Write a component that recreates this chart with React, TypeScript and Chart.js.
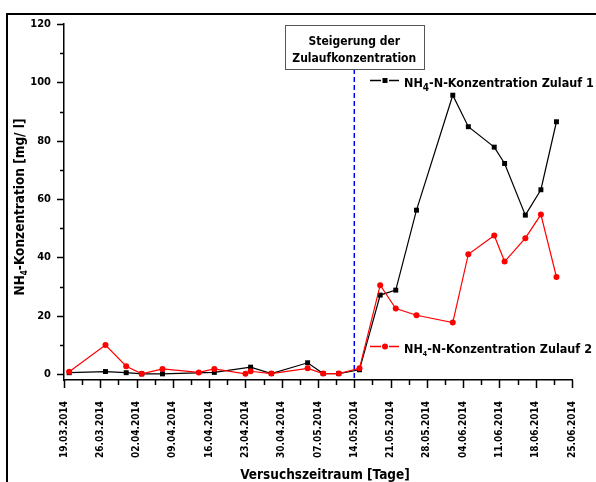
import React, { useEffect, useRef } from 'react';
import { Chart, registerables } from 'chart.js';

Chart.register(...registerables);

const FONT = "'DejaVu Sans Condensed', 'DejaVu Sans', sans-serif";

const startDate = '19.03.2014';
const markerDate = '14.05.2014';

const xTickLabels = [
  '19.03.2014', '26.03.2014', '02.04.2014', '09.04.2014', '16.04.2014',
  '23.04.2014', '30.04.2014', '07.05.2014', '14.05.2014', '21.05.2014',
  '28.05.2014', '04.06.2014', '11.06.2014', '18.06.2014', '25.06.2014',
];

const yTickValues = [0, 20, 40, 60, 80, 100, 120];
const yMinorValues = [10, 30, 50, 70, 90, 110];

const measureDates = [
  '20.03.2014', '27.03.2014', '31.03.2014', '03.04.2014', '07.04.2014',
  '14.04.2014', '17.04.2014', '23.04.2014', '24.04.2014', '28.04.2014',
  '05.05.2014', '08.05.2014', '11.05.2014', '15.05.2014', '19.05.2014',
  '22.05.2014', '26.05.2014', '02.06.2014', '05.06.2014', '10.06.2014',
  '12.06.2014', '16.06.2014', '19.06.2014', '22.06.2014',
];

const zulauf1 = [
  0.5, 0.9, 0.5, 0.1, 0.1, null, 0.6, null, 2.4, 0.2,
  3.9, 0.2, 0.2, 1.5, 27.1, 28.8, 56.2, 95.6, 84.8, 77.8,
  72.2, 54.5, 63.2, 86.5,
];

const zulauf2 = [
  0.8, 10.0, 2.7, 0.1, 1.8, 0.6, 1.8, 0.1, 1.0, 0.2,
  2.0, 0.2, 0.2, 2.0, 30.5, 22.5, 20.2, 17.7, 41.1, 47.5,
  38.6, 46.6, 54.7, 33.3,
];

const annotationLines = ['Steigerung der', 'Zulaufkonzentration'];
const xTitle = 'Versuchszeitraum [Tage]';

function toUtc(d: string) {
  const [dd, mm, yy] = d.split('.').map(Number);
  return Date.UTC(yy, mm - 1, dd);
}
function dayOf(d: string) {
  return Math.round((toUtc(d) - toUtc(startDate)) / 86400000);
}

type Part = { t: string; sub?: boolean };

function drawRich(
  ctx: CanvasRenderingContext2D,
  parts: Part[],
  x: number,
  y: number,
  align: 'left' | 'center',
  size: number,
  subSize: number,
  subShift: number
) {
  const f = (s: number) => `bold ${s}px ${FONT}`;
  let w = 0;
  for (const p of parts) {
    ctx.font = f(p.sub ? subSize : size);
    w += ctx.measureText(p.t).width;
  }
  let cx = align === 'center' ? x - w / 2 : x;
  ctx.textAlign = 'left';
  ctx.textBaseline = 'alphabetic';
  for (const p of parts) {
    ctx.font = f(p.sub ? subSize : size);
    ctx.fillText(p.t, cx, y + (p.sub ? subShift : 0));
    cx += ctx.measureText(p.t).width;
  }
  return w;
}

const decor = {
  id: 'decor',
  beforeDatasetsDraw(chart: any) {
    const { ctx, chartArea, scales } = chart;
    const px = scales.x.getPixelForValue(dayOf(markerDate));
    ctx.save();
    ctx.strokeStyle = '#0000ff';
    ctx.lineWidth = 1.5;
    ctx.setLineDash([5, 3]);
    ctx.beginPath();
    ctx.moveTo(px, chartArea.top + 45);
    ctx.lineTo(px, chartArea.bottom);
    ctx.stroke();
    ctx.restore();
  },
  afterDraw(chart: any) {
    const { ctx, chartArea, scales } = chart;
    const xs = scales.x;
    const ys = scales.y;
    ctx.save();
    ctx.strokeStyle = '#000';
    ctx.lineWidth = 1.5;
    ctx.beginPath();
    for (const v of yTickValues) {
      const py = Math.round(ys.getPixelForValue(v)) + 0.5;
      ctx.moveTo(chartArea.left - 7, py);
      ctx.lineTo(chartArea.left, py);
    }
    for (const v of yMinorValues) {
      const py = Math.round(ys.getPixelForValue(v)) + 0.5;
      ctx.moveTo(chartArea.left - 4, py);
      ctx.lineTo(chartArea.left, py);
    }
    const majors = xTickLabels.map(dayOf);
    majors.forEach((d, i) => {
      const px = Math.round(xs.getPixelForValue(d)) + 0.5;
      ctx.moveTo(px, chartArea.bottom);
      ctx.lineTo(px, chartArea.bottom + 8);
      if (i < majors.length - 1) {
        const pm = Math.round(xs.getPixelForValue((d + majors[i + 1]) / 2)) + 0.5;
        ctx.moveTo(pm, chartArea.bottom);
        ctx.lineTo(pm, chartArea.bottom + 5);
      }
    });
    ctx.stroke();

    // annotation box
    const mx = xs.getPixelForValue(dayOf(markerDate));
    const bw = 139;
    const bx = Math.round(mx - bw / 2) + 0.5;
    const by = chartArea.top + 1.5;
    ctx.fillStyle = '#fff';
    ctx.fillRect(bx, by, bw, 44);
    ctx.strokeStyle = '#555';
    ctx.lineWidth = 1;
    ctx.strokeRect(bx, by, bw, 44);
    ctx.fillStyle = '#000';
    ctx.font = `bold 12px ${FONT}`;
    ctx.textAlign = 'center';
    ctx.textBaseline = 'alphabetic';
    ctx.fillText(annotationLines[0], mx, by + 19.5);
    ctx.fillText(annotationLines[1], mx, by + 36.5);

    // legend entries
    const drawEntry = (y: number, color: string, style: 'rect' | 'circle', suffix: string, subSize: number, subShift: number) => {
      ctx.strokeStyle = color;
      ctx.lineWidth = 1.3;
      ctx.beginPath();
      ctx.moveTo(370, y);
      ctx.lineTo(381, y);
      ctx.moveTo(389, y);
      ctx.lineTo(399, y);
      ctx.stroke();
      ctx.fillStyle = color;
      if (style === 'rect') {
        ctx.fillRect(385 - 2.5, y - 2.5, 5, 5);
      } else {
        ctx.beginPath();
        ctx.arc(385, y, 3, 0, Math.PI * 2);
        ctx.fill();
      }
      ctx.fillStyle = '#000';
      drawRich(ctx, [{ t: 'NH' }, { t: '4', sub: true }, { t: suffix }], 404, y + 6, 'left', 12.5, subSize, subShift);
    };
    drawEntry(80.5, '#000', 'rect', '-N-Konzentration Zulauf 1', 10, 4);
    drawEntry(346.5, '#ff0000', 'circle', '-N-Konzentration Zulauf 2', 7, 3);

    // axis titles
    ctx.fillStyle = '#000';
    ctx.font = `bold 13.5px ${FONT}`;
    ctx.textAlign = 'center';
    ctx.fillText(xTitle, (chartArea.left + chartArea.right) / 2 + 7, 479);

    ctx.translate(24, (chartArea.top + chartArea.bottom) / 2 + 5);
    ctx.rotate(-Math.PI / 2);
    drawRich(ctx, [{ t: 'NH' }, { t: '4', sub: true }, { t: '-Konzentration [mg/ l]' }], 0, 0, 'center', 13.5, 8, 3);
    ctx.restore();
  },
};

export default function App() {
  const ref = useRef<HTMLCanvasElement>(null);
  useEffect(() => {
    const canvas = ref.current;
    if (!canvas) return;
    const pts = (vals: (number | null)[]) =>
      measureDates.map((d, i) => ({ x: dayOf(d), y: vals[i] }));
    const chart = new Chart(canvas, {
      type: 'line',
      data: {
        datasets: [
          {
            label: 'NH4-N-Konzentration Zulauf 1',
            data: pts(zulauf1) as any,
            borderColor: '#000',
            backgroundColor: '#000',
            borderWidth: 1.2,
            pointStyle: 'rect',
            pointRadius: 3.5,
            pointBorderWidth: 0,
            spanGaps: true,
            order: 1,
          },
          {
            label: 'NH4-N-Konzentration Zulauf 2',
            data: pts(zulauf2) as any,
            borderColor: '#ff0000',
            backgroundColor: '#ff0000',
            borderWidth: 1.2,
            pointStyle: 'circle',
            pointRadius: 3,
            pointBorderWidth: 0,
            spanGaps: true,
            order: 0,
          },
        ],
      },
      options: {
        animation: false,
        responsive: false,
        devicePixelRatio: 1,
        layout: { padding: { top: 24, right: 24, left: 0, bottom: 0 } },
        plugins: {
          legend: { display: false },
          tooltip: { enabled: false },
          title: { display: false },
        },
        scales: {
          x: {
            type: 'linear',
            min: 0,
            max: dayOf(xTickLabels[xTickLabels.length - 1]),
            afterBuildTicks: (s: any) => {
              s.ticks = xTickLabels.map((l) => ({ value: dayOf(l) }));
            },
            afterFit: (s: any) => {
              s.height = 102;
              s.paddingLeft = 0;
              s.paddingRight = 0;
            },
            ticks: {
              callback: (_v: any, i: number) => xTickLabels[i],
              minRotation: 90,
              maxRotation: 90,
              autoSkip: false,
              padding: 21,
              color: '#000',
              font: { family: FONT, size: 10, weight: 'bold' },
            },
            grid: { display: false, drawTicks: false },
            border: { display: true, color: '#000', width: 1.5 },
          },
          y: {
            type: 'linear',
            min: -2,
            max: 120,
            afterBuildTicks: (s: any) => {
              s.ticks = yTickValues.map((v) => ({ value: v }));
            },
            afterFit: (s: any) => {
              s.width = 64;
            },
            ticks: {
              padding: 13,
              color: '#000',
              font: { family: FONT, size: 11, weight: 'bold' },
            },
            grid: { display: false, drawTicks: false },
            border: { display: true, color: '#000', width: 1.5 },
          },
        },
      },
      plugins: [decor],
    });
    return () => chart.destroy();
  }, []);

  return (
    <div style={{ position: 'fixed', left: 0, top: 0, width: 596, height: 482, overflow: 'hidden', background: '#fff' }}>
      <div style={{ position: 'absolute', left: 6, top: 13, width: 700, height: 600, border: '2px solid #000' }} />
      <canvas ref={ref} width={596} height={482} style={{ position: 'absolute', left: 0, top: 0, width: 596, height: 482 }} />
    </div>
  );
}
